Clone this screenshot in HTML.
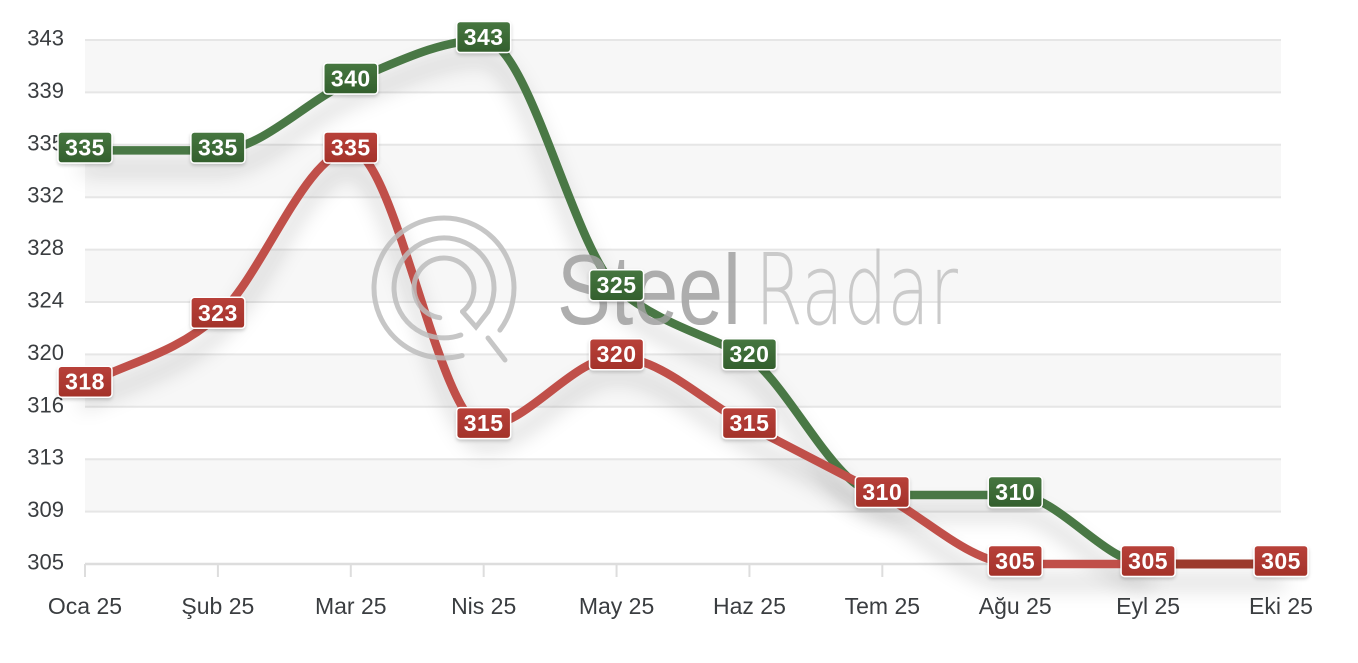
<!DOCTYPE html>
<html>
<head>
<meta charset="utf-8">
<style>
  html,body{margin:0;padding:0;background:#fff;}
  body{width:1358px;height:663px;overflow:hidden;}
  svg{display:block;}
  .yl{font-family:"Liberation Sans",Arial,sans-serif;font-size:22px;fill:#3a3d40;text-anchor:end;}
  .xl{font-family:"Liberation Sans",Arial,sans-serif;font-size:23px;fill:#3a3d40;text-anchor:middle;}
  .lt{font-family:"Liberation Sans",Arial,sans-serif;font-size:23px;font-weight:bold;fill:#fff;text-anchor:middle;letter-spacing:0.5px;}
</style>
</head>
<body>
<svg width="1358" height="663" viewBox="0 0 1358 663" xmlns="http://www.w3.org/2000/svg">
  <defs>
    <filter id="sh" x="-10%" y="-20%" width="120%" height="170%">
      <feGaussianBlur in="SourceAlpha" stdDeviation="10"/>
      <feOffset dx="0" dy="18" result="b"/>
      <feFlood flood-color="#000" flood-opacity="0.22"/>
      <feComposite in2="b" operator="in"/>
      <feMerge><feMergeNode/><feMergeNode in="SourceGraphic"/></feMerge>
    </filter>
    <filter id="lsh" x="-20%" y="-20%" width="140%" height="160%">
      <feDropShadow dx="0" dy="2" stdDeviation="1.5" flood-color="#000" flood-opacity="0.18"/>
    </filter>
    <linearGradient id="gG" x1="0" y1="0" x2="0" y2="1">
      <stop offset="0" stop-color="#467640"/>
      <stop offset="1" stop-color="#335f2d"/>
    </linearGradient>
    <linearGradient id="gR" x1="0" y1="0" x2="0" y2="1">
      <stop offset="0" stop-color="#b8413a"/>
      <stop offset="1" stop-color="#a3322a"/>
    </linearGradient>
  </defs>

  <!-- bands -->
  <g fill="#f7f7f7">
    <rect x="85" y="40" width="1196" height="52.4"/>
    <rect x="85" y="144.8" width="1196" height="52.4"/>
    <rect x="85" y="249.6" width="1196" height="52.4"/>
    <rect x="85" y="354.4" width="1196" height="52.4"/>
    <rect x="85" y="459.2" width="1196" height="52.4"/>
  </g>
  <!-- grid lines -->
  <g stroke="#e6e6e6" stroke-width="2">
    <line x1="85" x2="1281" y1="40" y2="40"/>
    <line x1="85" x2="1281" y1="92.4" y2="92.4"/>
    <line x1="85" x2="1281" y1="144.8" y2="144.8"/>
    <line x1="85" x2="1281" y1="197.2" y2="197.2"/>
    <line x1="85" x2="1281" y1="249.6" y2="249.6"/>
    <line x1="85" x2="1281" y1="302" y2="302"/>
    <line x1="85" x2="1281" y1="354.4" y2="354.4"/>
    <line x1="85" x2="1281" y1="406.8" y2="406.8"/>
    <line x1="85" x2="1281" y1="459.2" y2="459.2"/>
    <line x1="85" x2="1281" y1="511.6" y2="511.6"/>
  </g>
  <line x1="85" x2="1281" y1="564" y2="564" stroke="#dddddd" stroke-width="2.5"/>
  <g stroke="#dddddd" stroke-width="2">
    <line x1="85" x2="85" y1="564" y2="577"/>
    <line x1="217.89" x2="217.89" y1="564" y2="577"/>
    <line x1="350.78" x2="350.78" y1="564" y2="577"/>
    <line x1="483.67" x2="483.67" y1="564" y2="577"/>
    <line x1="616.56" x2="616.56" y1="564" y2="577"/>
    <line x1="749.44" x2="749.44" y1="564" y2="577"/>
    <line x1="882.33" x2="882.33" y1="564" y2="577"/>
    <line x1="1015.22" x2="1015.22" y1="564" y2="577"/>
    <line x1="1148.11" x2="1148.11" y1="564" y2="577"/>
    <line x1="1281" x2="1281" y1="564" y2="577"/>
  </g>

  <!-- y labels -->
  <text class="yl" x="64" y="45.5">343</text>
  <text class="yl" x="64" y="97.9">339</text>
  <text class="yl" x="64" y="150.3">335</text>
  <text class="yl" x="64" y="202.7">332</text>
  <text class="yl" x="64" y="255.1">328</text>
  <text class="yl" x="64" y="307.5">324</text>
  <text class="yl" x="64" y="359.9">320</text>
  <text class="yl" x="64" y="412.3">316</text>
  <text class="yl" x="64" y="464.7">313</text>
  <text class="yl" x="64" y="517.1">309</text>
  <text class="yl" x="64" y="569.5">305</text>

  <!-- x labels -->
  <text class="xl" x="85" y="614">Oca 25</text>
  <text class="xl" x="217.89" y="614">Şub 25</text>
  <text class="xl" x="350.78" y="614">Mar 25</text>
  <text class="xl" x="483.67" y="614">Nis 25</text>
  <text class="xl" x="616.56" y="614">May 25</text>
  <text class="xl" x="749.44" y="614">Haz 25</text>
  <text class="xl" x="882.33" y="614">Tem 25</text>
  <text class="xl" x="1015.22" y="614">Ağu 25</text>
  <text class="xl" x="1148.11" y="614">Eyl 25</text>
  <text class="xl" x="1281" y="614">Eki 25</text>

  <!-- series lines -->
  <g filter="url(#sh)" fill="none" stroke-width="8.5" stroke-linecap="round" stroke-linejoin="round">
    <path stroke="#4a7845" d="M85,150.32 C129.3,150.32 173.59,150.32 217.89,150.32 C262.19,150.32 306.48,99.75 350.78,81.37 C395.07,62.99 439.37,40 483.67,40 C527.96,40 572.26,245 616.56,288.21 C660.85,325 705.15,334.2 749.44,357.16 C793.74,391.63 838.04,495.05 882.33,495.05 C926.63,495.05 970.93,495.05 1015.22,495.05 C1059.52,495.05 1103.81,564 1148.11,564 C1192.41,564 1236.7,564 1281,564"/>
  </g>
  <g filter="url(#sh)" fill="none" stroke-width="8.5" stroke-linecap="round" stroke-linejoin="round">
    <path stroke="#c0504a" d="M85,384.74 C129.3,361.76 173.59,354.86 217.89,315.79 C262.19,276.72 306.48,150.32 350.78,150.32 C395.07,150.32 439.37,426.11 483.67,426.11 C527.96,426.11 572.26,357.16 616.56,357.16 C660.85,357.16 705.15,403.12 749.44,426.11 C793.74,449.09 838.04,472.07 882.33,495.05 C926.63,518.04 970.93,564 1015.22,564 C1059.52,564 1103.81,564 1148.11,564"/>
  </g>
  <line x1="1148.11" y1="564" x2="1281" y2="564" stroke="#9c3a2c" stroke-width="9"/>

  <!-- watermark -->
  <g opacity="0.85" fill="none" stroke="#bdbdbd" stroke-width="5" stroke-linecap="round">
    <path d="M462.1,355.6 A70,70 0 1 1 499.9,330.1"/>
    <line x1="488" y1="338" x2="505" y2="360"/>
    <path d="M460.8,335.0 A50,50 0 1 1 488.1,311.5"/>
    <path d="M439.8,317.7 A30,30 0 1 1 462.5,311.6"/>
    <polyline points="462.5,311.6 476,327 488.1,311.5"/>
  </g>
  <text x="557" y="324" font-family="Liberation Sans, Arial, sans-serif" font-size="99" fill="#a0a0a0" fill-opacity="0.85" textLength="184" lengthAdjust="spacingAndGlyphs">Steel</text>
  <text x="755" y="324" font-family="DejaVu Sans, Liberation Sans, sans-serif" font-weight="200" font-size="99" fill="#c4c4c4" fill-opacity="0.9" textLength="203" lengthAdjust="spacingAndGlyphs">Radar</text>

  <!-- green labels -->
  <g filter="url(#lsh)">
    <g stroke="#fff" stroke-width="1.5" fill="url(#gG)">
      <rect x="58" y="132" width="54" height="31" rx="3.5"/>
      <rect x="190.89" y="132" width="54" height="31" rx="3.5"/>
      <rect x="323.78" y="63" width="54" height="31" rx="3.5"/>
      <rect x="456.67" y="21.5" width="54" height="31" rx="3.5"/>
      <rect x="589.56" y="269.7" width="54" height="31" rx="3.5"/>
      <rect x="722.44" y="338.7" width="54" height="31" rx="3.5"/>
      <rect x="988.22" y="476.5" width="54" height="31" rx="3.5"/>
    </g>
  </g>
  <text class="lt" x="85" y="155.5">335</text>
  <text class="lt" x="217.89" y="155.5">335</text>
  <text class="lt" x="350.78" y="86.5">340</text>
  <text class="lt" x="483.67" y="45">343</text>
  <text class="lt" x="616.56" y="293.2">325</text>
  <text class="lt" x="749.44" y="362.2">320</text>
  <text class="lt" x="1015.22" y="500">310</text>

  <!-- red labels -->
  <g filter="url(#lsh)">
    <g stroke="#fff" stroke-width="1.5" fill="url(#gR)">
      <rect x="58" y="366.2" width="54" height="31" rx="3.5"/>
      <rect x="190.89" y="297.3" width="54" height="31" rx="3.5"/>
      <rect x="323.78" y="132" width="54" height="31" rx="3.5"/>
      <rect x="456.67" y="407.6" width="54" height="31" rx="3.5"/>
      <rect x="589.56" y="338.7" width="54" height="31" rx="3.5"/>
      <rect x="722.44" y="407.6" width="54" height="31" rx="3.5"/>
      <rect x="855.33" y="476.5" width="54" height="31" rx="3.5"/>
      <rect x="988.22" y="545.5" width="54" height="31" rx="3.5"/>
      <rect x="1121.11" y="545.5" width="54" height="31" rx="3.5"/>
      <rect x="1254" y="545.5" width="54" height="31" rx="3.5"/>
    </g>
  </g>
  <text class="lt" x="85" y="389.7">318</text>
  <text class="lt" x="217.89" y="320.8">323</text>
  <text class="lt" x="350.78" y="155.5">335</text>
  <text class="lt" x="483.67" y="431.1">315</text>
  <text class="lt" x="616.56" y="362.2">320</text>
  <text class="lt" x="749.44" y="431.1">315</text>
  <text class="lt" x="882.33" y="500">310</text>
  <text class="lt" x="1015.22" y="569">305</text>
  <text class="lt" x="1148.11" y="569">305</text>
  <text class="lt" x="1281" y="569">305</text>
</svg>
</body>
</html>
